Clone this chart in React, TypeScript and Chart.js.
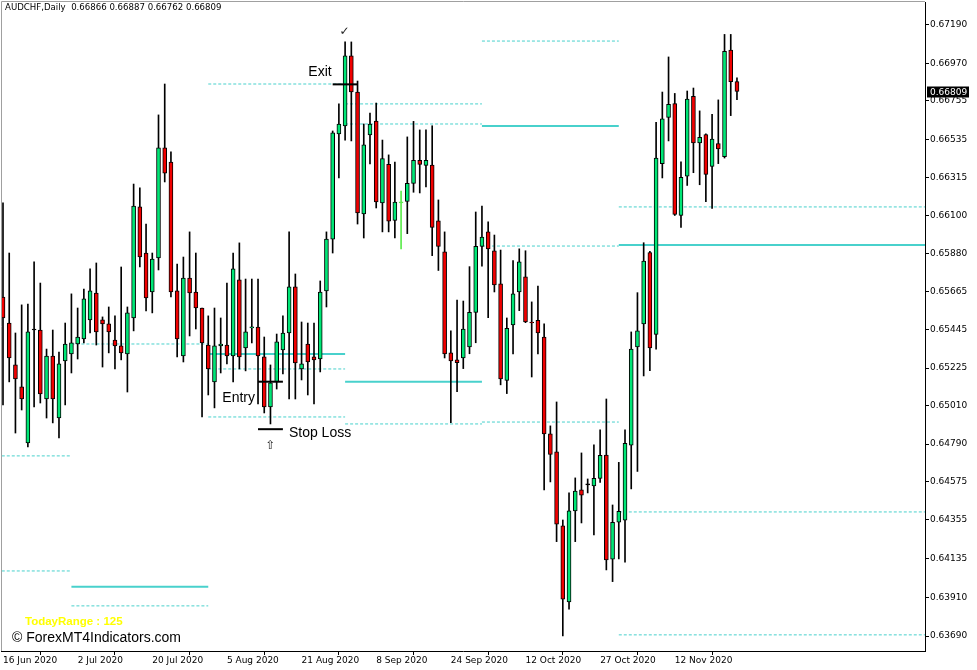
import React, { useEffect, useRef } from "react";
import { Chart, registerables } from "chart.js";

Chart.register(...registerables);

const symbolTitle = "AUDCHF,Daily";

// Date tick labels (bar index -> label)
const dateTickIndex = [0, 12, 24, 36, 48, 60, 72, 84, 96, 108];
const dateTickLabels = [
  "16 Jun 2020", "2 Jul 2020", "20 Jul 2020", "5 Aug 2020", "21 Aug 2020",
  "8 Sep 2020", "24 Sep 2020", "12 Oct 2020", "27 Oct 2020", "12 Nov 2020",
];

// Price axis labels
const priceTicks = [
  0.6719, 0.6697, 0.66755, 0.66535, 0.66315, 0.661, 0.6588, 0.65665, 0.65445,
  0.65225, 0.6501, 0.6479, 0.64575, 0.64355, 0.64135, 0.6391, 0.6369,
];

// Daily OHLC (bar 0 = 16 Jun 2020)
const opens = [
  0.65632, 0.65483, 0.65243, 0.65117, 0.64796, 0.65443, 0.65443, 0.65048, 0.65294, 0.64939,
  0.65266, 0.65306, 0.65363, 0.65392, 0.65501, 0.65655, 0.65501, 0.65478, 0.65386, 0.65352,
  0.65306, 0.65512, 0.66148, 0.65884, 0.65661, 0.65856, 0.66486, 0.66405, 0.65667, 0.65294,
  0.65741, 0.65661, 0.65569, 0.65357, 0.65146, 0.65352, 0.65357, 0.65294, 0.6573, 0.6534,
  0.65455, 0.6546, 0.65289, 0.65002, 0.65146, 0.65329, 0.65426, 0.6569, 0.6522, 0.65363,
  0.65289, 0.65277, 0.65667, 0.65964, 0.66566, 0.66612, 0.67013, 0.66806, 0.66108, 0.6656,
  0.6664, 0.66171, 0.66392, 0.6607, 0.66171, 0.66179, 0.66283, 0.66415, 0.66386, 0.66388,
  0.66068, 0.65891, 0.65312, 0.65272, 0.65283, 0.65346, 0.65544, 0.65922, 0.66005, 0.65897,
  0.65707, 0.65154, 0.65472, 0.65661, 0.65747, 0.65489, 0.65498, 0.65403, 0.64848, 0.64745,
  0.64321, 0.63886, 0.64407, 0.64527, 0.64556, 0.6455, 0.64593, 0.64727, 0.6413, 0.64343,
  0.64354, 0.64783, 0.65346, 0.65478, 0.65887, 0.65418, 0.66396, 0.66661, 0.6674, 0.66099,
  0.66324, 0.66782, 0.66515, 0.66563, 0.6638, 0.66511, 0.66436, 0.67047, 0.66866,
];
const highs = [
  0.66171, 0.65884, 0.65426, 0.65587, 0.65592, 0.65833, 0.65712, 0.65334, 0.65443, 0.65317,
  0.65483, 0.6565, 0.65569, 0.65678, 0.65793, 0.65827, 0.65518, 0.65575, 0.65524, 0.65804,
  0.65575, 0.66279, 0.66257, 0.6605, 0.65884, 0.66675, 0.66852, 0.66463, 0.65821, 0.65861,
  0.66005, 0.65884, 0.65569, 0.65524, 0.65569, 0.65512, 0.65712, 0.65884, 0.65942, 0.65735,
  0.65735, 0.65735, 0.65403, 0.65243, 0.6542, 0.65524, 0.66005, 0.65764, 0.65489, 0.65483,
  0.65483, 0.65724, 0.66005, 0.66583, 0.66738, 0.67093, 0.67093, 0.66869, 0.66623, 0.66686,
  0.66743, 0.66531, 0.66446, 0.66405, 0.66239, 0.66549, 0.66638, 0.66589, 0.66589, 0.66613,
  0.66188, 0.66005, 0.65438, 0.65615, 0.65609, 0.65806, 0.66119, 0.66153, 0.66062, 0.65987,
  0.65901, 0.65512, 0.6584, 0.65908, 0.65897, 0.65604, 0.65695, 0.65478, 0.64894, 0.65031,
  0.64355, 0.6451, 0.64596, 0.64739, 0.6459, 0.64786, 0.64871, 0.65048, 0.64441, 0.64685,
  0.64871, 0.65432, 0.65657, 0.65943, 0.65893, 0.66632, 0.66806, 0.67007, 0.66798, 0.66407,
  0.66812, 0.66829, 0.66698, 0.66567, 0.66678, 0.66761, 0.67136, 0.67136, 0.66887,
];
const lows = [
  0.65014, 0.65146, 0.64853, 0.64985, 0.64773, 0.65002, 0.65025, 0.64939, 0.64911, 0.64825,
  0.65014, 0.65197, 0.65277, 0.65369, 0.65426, 0.65357, 0.65231, 0.65312, 0.6522, 0.65272,
  0.65088, 0.65438, 0.65804, 0.65552, 0.65541, 0.65787, 0.66291, 0.65632, 0.65289, 0.6526,
  0.65409, 0.65449, 0.64945, 0.65071, 0.64997, 0.65197, 0.65249, 0.65146, 0.6522, 0.65209,
  0.65369, 0.6502, 0.64968, 0.64905, 0.65105, 0.65191, 0.65048, 0.65048, 0.65157, 0.65071,
  0.6502, 0.65203, 0.65575, 0.65884, 0.66314, 0.66531, 0.66526, 0.6605, 0.6597, 0.66394,
  0.66142, 0.66005, 0.66005, 0.6597, 0.65907, 0.65995, 0.66232, 0.66228, 0.66262, 0.65869,
  0.65784, 0.65283, 0.64912, 0.6509, 0.65222, 0.65307, 0.6537, 0.65808, 0.65514, 0.65661,
  0.65129, 0.65079, 0.65306, 0.65554, 0.65485, 0.65174, 0.65306, 0.64527, 0.64573, 0.64231,
  0.63691, 0.63844, 0.64231, 0.64338, 0.6451, 0.64269, 0.6457, 0.64069, 0.64002, 0.64132,
  0.64113, 0.64533, 0.64633, 0.6518, 0.6521, 0.65334, 0.66314, 0.66526, 0.66099, 0.6603,
  0.66271, 0.66344, 0.66275, 0.66178, 0.6614, 0.66396, 0.66428, 0.66671, 0.66762,
];
const closes = [
  0.65512, 0.65283, 0.65163, 0.65048, 0.65432, 0.65443, 0.65077, 0.65294, 0.65048, 0.65249,
  0.65363, 0.65369, 0.65403, 0.65621, 0.65667, 0.65432, 0.65478, 0.65432, 0.65352, 0.65312,
  0.65541, 0.66153, 0.65861, 0.65627, 0.6585, 0.66486, 0.66342, 0.65661, 0.65392, 0.65741,
  0.65655, 0.65569, 0.65369, 0.6522, 0.65352, 0.65363, 0.65294, 0.65793, 0.65289, 0.65432,
  0.6546, 0.65294, 0.65002, 0.6514, 0.65375, 0.65426, 0.6569, 0.65254, 0.65249, 0.6526,
  0.65272, 0.65661, 0.65964, 0.66572, 0.66623, 0.67013, 0.66806, 0.66113, 0.66503, 0.66623,
  0.66176, 0.66425, 0.66066, 0.66176, 0.66171, 0.66283, 0.66415, 0.66392, 0.66415, 0.66031,
  0.65922, 0.65306, 0.65266, 0.65256, 0.65449, 0.65544, 0.65922, 0.65976, 0.65907, 0.65701,
  0.65163, 0.65453, 0.6565, 0.65834, 0.65489, 0.65483, 0.65427, 0.64848, 0.6473, 0.64331,
  0.63901, 0.64408, 0.6452, 0.64497, 0.64556, 0.64593, 0.64725, 0.64126, 0.64341, 0.64404,
  0.64794, 0.65334, 0.65439, 0.65838, 0.6534, 0.66428, 0.66652, 0.66736, 0.66105, 0.66317,
  0.66765, 0.66515, 0.66546, 0.66334, 0.66536, 0.6648, 0.67039, 0.66865, 0.66809,
];
const limeBars = [64];

// Period levels (22-bar blocks)
const levelFrom = [-1, -1, 11, 11, 11, 33, 33, 33, 33, 55, 55, 55, 55, 77, 77, 77, 77, 99, 99, 99, 99];
const levelTo = [11, 11, 33, 33, 33, 55, 55, 55, 55, 77, 77, 77, 77, 99, 99, 99, 99, 160, 160, 160, 160];
const levelPrice = [
  0.64722, 0.64063,
  0.65363, 0.63972, 0.63863,
  0.66852, 0.65306, 0.6522, 0.64945,
  0.66738, 0.66623, 0.65146, 0.64905,
  0.67098, 0.66612, 0.65924, 0.64916,
  0.66148, 0.6593, 0.64401, 0.63697,
];
const levelSolid = [0, 0, 0, 1, 0, 0, 1, 0, 0, 0, 0, 1, 0, 0, 1, 0, 0, 0, 1, 0, 0];

// Trade markers
const markerLabels = ["Exit", "Entry", "Stop Loss"];
const markerFrom = [53, 41, 41];
const markerTo = [57, 45, 45];
const markerPrice = [0.6685, 0.65147, 0.64875];
const exitBar = 55;
const entryBar = 43;

const todayRangeText = "TodayRange : 125";
const watermark = "\u00A9 ForexMT4Indicators.com";

const GREEN = "#00E676";
const RED = "#F00000";
const LIME = "#5CEB4C";
const LEVEL = "#48D1CC";

const overlayPlugin = {
  id: "mt4Overlay",
  afterDraw(chart: any) {
    const { ctx, chartArea: a, scales } = chart;
    const xs = scales.x;
    const ys = scales.y;
    ctx.save();
    // frame (top / left)
    ctx.strokeStyle = "#a0a0a0";
    ctx.lineWidth = 1;
    ctx.beginPath();
    ctx.moveTo(1.5, 1.5);
    ctx.lineTo(a.right, 1.5);
    ctx.moveTo(1.5, 1.5);
    ctx.lineTo(1.5, a.bottom);
    ctx.stroke();

    // header
    const n = opens.length - 1;
    ctx.fillStyle = "#000";
    ctx.font = '8.6px "DejaVu Sans"';
    ctx.textAlign = "left";
    ctx.textBaseline = "alphabetic";
    ctx.fillText(
      `${symbolTitle}  ${opens[n].toFixed(5)} ${highs[n].toFixed(5)} ${lows[n].toFixed(5)} ${closes[n].toFixed(5)}`,
      5,
      10
    );

    // marker labels
    ctx.font = '14px "Liberation Sans"';
    ctx.fillStyle = "#000";
    // Exit
    let y0 = ys.getPixelForValue(markerPrice[0]);
    ctx.textAlign = "right";
    ctx.fillText(markerLabels[0], xs.getPixelForValue(markerFrom[0]) - 1, y0 - 8);
    // Entry
    y0 = ys.getPixelForValue(markerPrice[1]);
    ctx.fillText(markerLabels[1], xs.getPixelForValue(markerFrom[1]) - 3, y0 + 20);
    // Stop Loss
    y0 = ys.getPixelForValue(markerPrice[2]);
    ctx.textAlign = "left";
    ctx.fillText(markerLabels[2], xs.getPixelForValue(markerTo[2]) + 6, y0 + 8);

    // check mark and arrow
    ctx.font = '12px "DejaVu Sans"';
    ctx.textAlign = "center";
    ctx.textBaseline = "middle";
    ctx.fillStyle = "#222";
    ctx.fillText("\u2713", xs.getPixelForValue(exitBar) - 0.5, ys.getPixelForValue(highs[exitBar]) - 10);
    ctx.font = '12px "DejaVu Sans"';
    ctx.fillText("\u21E7", xs.getPixelForValue(entryBar), ys.getPixelForValue(markerPrice[2]) + 17);

    // TodayRange
    ctx.textAlign = "left";
    ctx.textBaseline = "alphabetic";
    ctx.font = 'bold 11.5px "Liberation Sans"';
    ctx.fillStyle = "#FFFF00";
    ctx.fillText(todayRangeText, a.left + 24, a.bottom - 26.5);

    // watermark
    ctx.font = '14px "Liberation Sans"';
    ctx.fillStyle = "#000";
    ctx.fillText(watermark, a.left + 11, a.bottom - 9);

    // current price box
    const py = ys.getPixelForValue(closes[n]);
    ctx.fillStyle = "#000";
    ctx.fillRect(a.right + 2, Math.round(py) - 5.5, 42, 11);
    ctx.fillStyle = "#fff";
    ctx.font = '9px "DejaVu Sans"';
    ctx.textBaseline = "middle";
    ctx.fillText(closes[n].toFixed(5), a.right + 5, Math.round(py) + 0.5);
    ctx.restore();
  },
};

export default function App() {
  const ref = useRef<HTMLCanvasElement>(null);

  useEffect(() => {
    const canvas = ref.current;
    if (!canvas) return;

    const bodyColors = opens.map((o, i) =>
      limeBars.includes(i) ? LIME : closes[i] > o ? GREEN : closes[i] < o ? RED : "#000"
    );
    const bodyBorders = opens.map((_, i) => (limeBars.includes(i) ? LIME : "#000"));
    const wickColors = opens.map((_, i) => (limeBars.includes(i) ? LIME : "#000"));

    const levelSets = levelPrice.map((p, k) => ({
      type: "line" as const,
      data: [
        { x: levelFrom[k], y: p },
        { x: levelTo[k], y: p },
      ],
      borderColor: LEVEL,
      borderWidth: levelSolid[k] ? 2 : 1,
      borderDash: levelSolid[k] ? [] : [3, 2],
      pointRadius: 0,
      fill: false,
      order: 5,
    }));

    const markerSets = markerPrice.map((p, k) => ({
      type: "line" as const,
      data: [
        { x: markerFrom[k], y: p },
        { x: markerTo[k], y: p },
      ],
      borderColor: "#000",
      borderWidth: 2,
      pointRadius: 0,
      fill: false,
      order: -1,
    }));

    const chart = new Chart(canvas, {
      type: "bar",
      data: {
        datasets: [
          {
            type: "bar",
            data: opens.map((o, i) => ({ x: i, y: [o, closes[i]] })) as any,
            backgroundColor: bodyColors,
            borderColor: bodyBorders,
            borderWidth: 1,
            borderSkipped: false,
            barThickness: 4,
            minBarLength: 1,
            grouped: false,
            order: 0,
          } as any,
          {
            type: "bar",
            data: lows.map((l, i) => ({ x: i, y: [l, highs[i]] })) as any,
            backgroundColor: wickColors,
            borderWidth: 0,
            barThickness: 1,
            grouped: false,
            order: 1,
          } as any,
          ...(levelSets as any[]),
          ...(markerSets as any[]),
        ],
      },
      options: {
        animation: false,
        responsive: false,
        devicePixelRatio: 1,
        events: [],
        layout: { padding: { left: 1, top: 2, right: 0, bottom: 0 } },
        plugins: { legend: { display: false }, tooltip: { enabled: false } },
        scales: {
          x: {
            type: "linear",
            min: -0.3215,
            max: 148.23,
            offset: false,
            afterBuildTicks: (s: any) => {
              s.ticks = dateTickIndex.map((v) => ({ value: v }));
            },
            afterFit: (s: any) => {
              s.height = 19;
              s.paddingLeft = 0;
              s.paddingRight = 0;
            },
            ticks: {
              autoSkip: false,
              maxRotation: 0,
              minRotation: 0,
              align: "start",
              padding: 0,
              color: "#000",
              font: { family: "DejaVu Sans", size: 9 },
              callback: (v: any) => {
                const k = dateTickIndex.indexOf(Number(v));
                return k >= 0 ? dateTickLabels[k] : "";
              },
            },
            grid: { drawOnChartArea: false, drawTicks: true, tickLength: 4, color: "#000" },
            border: { display: true, color: "#000", width: 1 },
          } as any,
          y: {
            type: "linear",
            position: "right",
            min: 0.636046,
            max: 0.673217,
            afterBuildTicks: (s: any) => {
              s.ticks = priceTicks.map((v) => ({ value: v }));
            },
            afterFit: (s: any) => {
              s.width = 52;
              s.paddingTop = 0;
              s.paddingBottom = 0;
            },
            ticks: {
              autoSkip: false,
              padding: 1,
              color: "#000",
              font: { family: "DejaVu Sans", size: 9 },
              callback: (v: any) => Number(v).toFixed(5),
            },
            grid: { drawOnChartArea: false, drawTicks: true, tickLength: 4, color: "#000" },
            border: { display: true, color: "#000", width: 1 },
          } as any,
        },
      },
      plugins: [overlayPlugin],
    });

    return () => chart.destroy();
  }, []);

  return (
    <div style={{ position: "fixed", left: 0, top: 0, width: 977, height: 670, background: "#fff" }}>
      <canvas ref={ref} width={977} height={670} style={{ display: "block", width: 977, height: 670 }} />
    </div>
  );
}
